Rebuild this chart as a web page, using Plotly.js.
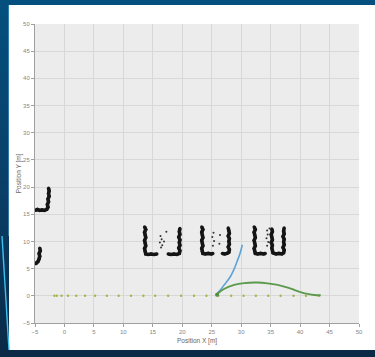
<!DOCTYPE html>
<html>
<head>
<meta charset="utf-8">
<script src="https://cdn.plot.ly/plotly-3.0.1.min.js"></script>
<style>
  html, body { margin: 0; padding: 0; width: 375px; height: 357px; overflow: hidden; }
  body { background: linear-gradient(180deg, #04507e 0%, #0a3e66 55%, #0a2a46 100%); position: relative; }
  #panel { position: absolute; left: 9px; top: 5px; width: 366px; height: 345px; background: #ffffff; }
  #deco { position: absolute; left: 0; top: 0; }
  #chart { position: absolute; left: 0; top: 0; width: 375px; height: 357px; }
</style>
</head>
<body>
<div id="panel"></div>
<svg id="deco" width="375" height="357">
  <line x1="8.5" y1="5" x2="8.5" y2="236" stroke="#5fb8e8" stroke-width="0.8" opacity="0.6"/>
  <line x1="2" y1="236" x2="9" y2="350" stroke="#3fc0f0" stroke-width="1.4"/>
</svg>
<div id="chart"></div>
<script>
// Detected object point clouds (x, y in metres); null separates clusters
var cloudX = [
  -5.0, -4.6, -4.2, -3.8, -3.4, -3.0, -2.8, -2.9, -2.7, -2.8, -2.6, -2.7, -2.6, -2.7, null,
  -4.2, -4.1, -4.3, -4.2, -4.3, -4.5, -4.8, -5.0, null,
  13.6, 13.8, 13.6, 13.7, 13.8, 13.6, 13.7, 13.8, 13.6, 13.7, 13.8, 14.2, 14.7, 15.2, 15.7, null,
  17.6, 18.1, 18.6, 19.1, 19.5, 19.6, 19.4, 19.6, 19.5, 19.6, 19.4, 19.6, 19.5, 19.6, null,
  23.3, 23.5, 23.3, 23.4, 23.5, 23.3, 23.4, 23.5, 23.3, 23.4, 23.5, 23.9, 24.4, 24.9, 25.2, null,
  26.8, 27.2, 27.6, 27.9, 28.0, 27.8, 28.0, 27.9, 28.0, 27.8, 28.0, 27.9, 27.8, null,
  32.2, 32.4, 32.2, 32.3, 32.4, 32.2, 32.3, 32.4, 32.2, 32.3, 32.4, 32.8, 33.3, 33.8, 34.1, null,
  35.2, 35.3, 35.1, 35.2, 35.3, 35.1, 35.3, 35.2, 35.4, 35.9, 36.4, 36.9, 37.2, 37.3, 37.1, 37.3, 37.2, 37.3, 37.1, 37.3, 37.2, 37.3
];
var cloudY = [
  15.7, 15.9, 15.7, 15.8, 15.7, 15.9, 16.3, 16.8, 17.3, 17.8, 18.3, 18.8, 19.3, 19.8, null,
  8.8, 8.3, 7.8, 7.3, 6.8, 6.3, 6.0, 5.9, null,
  12.7, 12.2, 11.7, 11.2, 10.7, 10.2, 9.7, 9.2, 8.7, 8.2, 7.7, 7.6, 7.7, 7.6, 7.7, null,
  7.7, 7.6, 7.7, 7.6, 7.8, 8.3, 8.8, 9.3, 9.8, 10.3, 10.8, 11.3, 11.8, 12.4, null,
  12.7, 12.2, 11.7, 11.2, 10.7, 10.2, 9.7, 9.2, 8.7, 8.2, 7.8, 7.7, 7.8, 7.7, 7.8, null,
  7.8, 7.7, 7.8, 8.0, 8.5, 9.0, 9.5, 10.0, 10.5, 11.0, 11.5, 12.0, 12.5, null,
  12.7, 12.2, 11.7, 11.2, 10.7, 10.2, 9.7, 9.2, 8.7, 8.2, 7.8, 7.7, 7.8, 7.7, 7.8, null,
  12.3, 11.8, 11.3, 10.8, 10.3, 9.8, 9.3, 8.8, 7.9, 7.7, 7.8, 7.7, 7.9, 8.4, 8.9, 9.4, 9.9, 10.4, 10.9, 11.4, 11.9, 12.5
];
// Sparse points inside the objects
var sparseX = [16.3, 16.5, 16.2, 16.6, 16.4, 17.3, 16.9, 25.3, 25.1, 25.4, 26.4, 26.3, 25.2, 34.4, 34.5, 34.3, 34.6, 34.4, 34.8];
var sparseY = [11.0, 10.4, 9.8, 9.3, 8.9, 11.8, 10.0, 11.6, 10.8, 10.1, 11.2, 9.6, 9.2, 12.0, 11.3, 10.6, 9.9, 9.2, 12.4];
// Reference path samples (y = 0)
var refX = [-1.7, -1.3, -0.5, 0.6, 2.0, 3.5, 5.2, 7.2, 9.2, 11.3, 13.4, 15.4, 17.6, 19.8, 22.0, 24.1, 26.1, 28.3, 30.4, 32.5, 34.6, 36.7, 38.9, 41.0, 43.2];
var refY = [0, 0, 0, 0, 0, 0, 0, 0, 0, 0, 0, 0, 0, 0, 0, 0, 0, 0, 0, 0, 0, 0, 0, 0, 0];
// Candidate trajectory (blue)
var blueX = [25.9, 26.5, 27.1, 27.7, 28.2, 28.8, 29.3, 29.8, 30.2];
var blueY = [0.4, 1.1, 2.0, 2.8, 3.6, 4.9, 6.3, 7.8, 9.4];
// Planned lane-change trajectory (green)
var greenX = [25.8, 27.0, 28.8, 30.5, 32.7, 34.5, 36.2, 37.6, 39.0, 40.2, 41.3, 42.4, 43.5];
var greenY = [0.2, 1.2, 2.0, 2.35, 2.45, 2.3, 2.0, 1.6, 1.1, 0.65, 0.35, 0.15, 0.1];

var traces = [
  { x: cloudX, y: cloudY, type: 'scatter', mode: 'lines+markers', connectgaps: false,
    line: { color: '#151515', width: 3.6 }, marker: { color: '#151515', size: 3.2 }, hoverinfo: 'none' },
  { x: sparseX, y: sparseY, type: 'scatter', mode: 'markers',
    marker: { color: '#333333', size: 2 }, hoverinfo: 'none' },
  { x: refX, y: refY, type: 'scatter', mode: 'markers',
    marker: { color: '#a8b44a', size: 2.4 }, hoverinfo: 'none' },
  { x: blueX, y: blueY, type: 'scatter', mode: 'lines', line: { color: '#5ea3d8', width: 1.6, shape: 'spline' }, hoverinfo: 'none' },
  { x: greenX, y: greenY, type: 'scatter', mode: 'lines', line: { color: '#5b9a4c', width: 1.8, shape: 'spline' }, hoverinfo: 'none' },
  { x: [25.9], y: [0.2], type: 'scatter', mode: 'markers', marker: { color: '#4f8f44', size: 4 }, hoverinfo: 'none' }
];

var fontFam = 'Liberation Sans, Arial, sans-serif';
var titleFont = { family: fontFam, size: 6.5, color: '#666666' };
var axisCommon = {
  range: [-5, 50], dtick: 5, tick0: -5, showline: true, linecolor: '#a0a0a0', linewidth: 1,
  ticks: 'outside', ticklen: 3, tickcolor: '#a0a0a0', gridcolor: '#d8d8d8', gridwidth: 1,
  zeroline: false, fixedrange: true,
  tickfont: { family: fontFam, size: 6, color: '#858585' }
};

var layout = {
  width: 375, height: 357,
  margin: { l: 35, r: 16, t: 24, b: 34 },
  paper_bgcolor: 'rgba(0,0,0,0)', plot_bgcolor: '#ececec',
  showlegend: false,
  xaxis: Object.assign({}, axisCommon),
  yaxis: Object.assign({}, axisCommon),
  annotations: [
    { text: 'Position X [m]', xref: 'paper', yref: 'paper', x: 0.5, y: -0.06, showarrow: false,
      xanchor: 'center', yanchor: 'middle', font: titleFont },
    { text: 'Position Y [m]', xref: 'paper', yref: 'paper', x: -0.05, y: 0.5, showarrow: false,
      textangle: -90, xanchor: 'center', yanchor: 'middle', font: titleFont }
  ]
};

Plotly.newPlot('chart', traces, layout, { staticPlot: true, displayModeBar: false });
</script>
</body>
</html>
